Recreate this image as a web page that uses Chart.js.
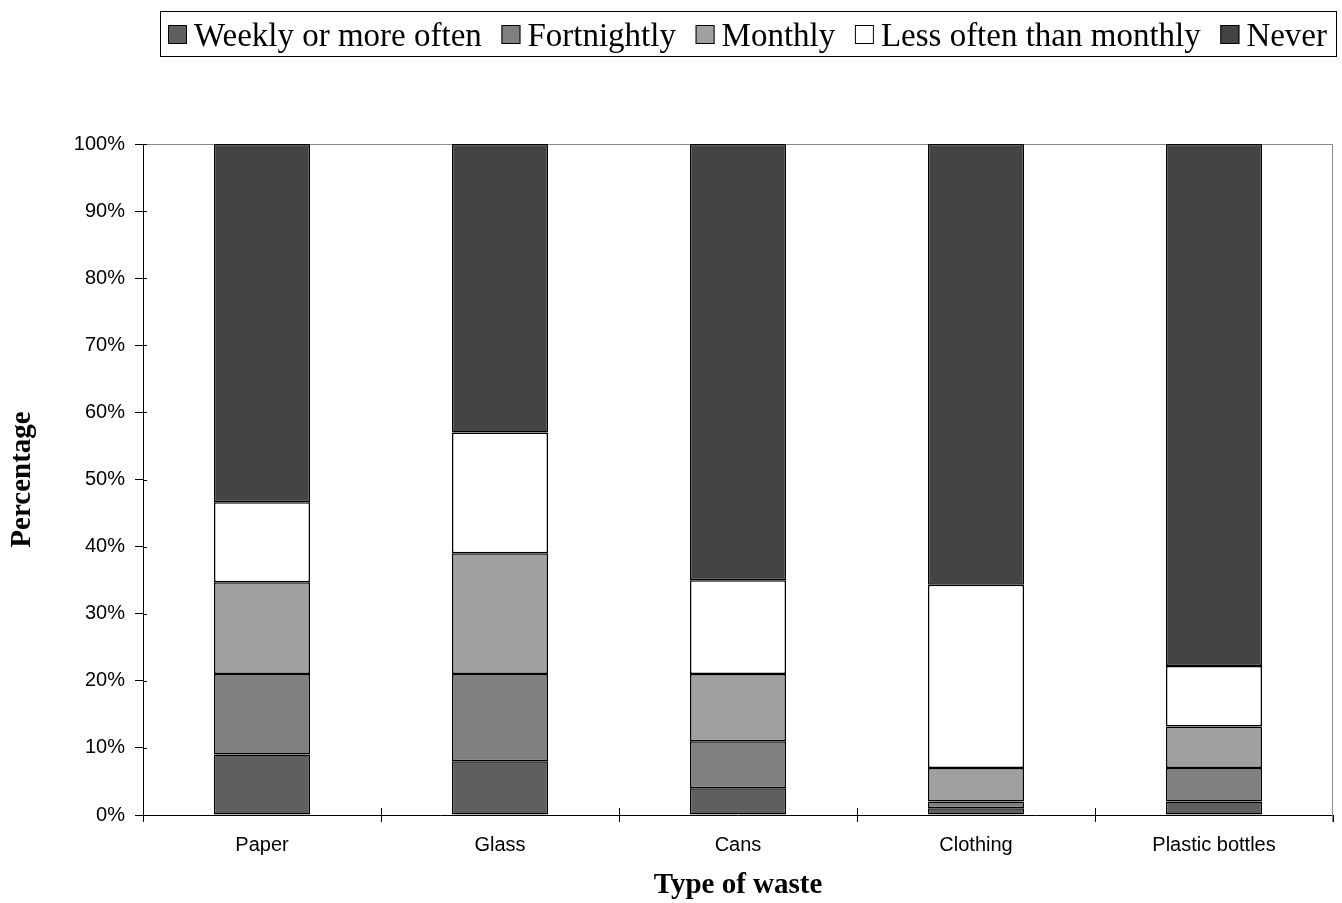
<!DOCTYPE html>
<html>
<head>
<meta charset="utf-8">
<script src="https://cdn.jsdelivr.net/npm/chart.js@4/dist/chart.umd.min.js"></script>
<style>
  html, body { margin: 0; padding: 0; background: #fff; }
  #wrap { width: 1342px; height: 903px; }
</style>
</head>
<body>
<div id="wrap"><canvas id="c" width="1342" height="903"></canvas></div>
<script>
// Recycling frequency by type of waste (percent of respondents)
const categories = ['Paper', 'Glass', 'Cans', 'Clothing', 'Plastic bottles'];
const weekly      = [9, 8, 4, 1, 2];
const fortnightly = [12, 13, 7, 1, 5];
const monthly     = [13.7, 18, 10, 5, 6.2];
const lessOften   = [11.9, 18, 14, 27.3, 9];
const never       = [53.4, 43, 65, 65.7, 77.8];
const yTicks = [0, 10, 20, 30, 40, 50, 60, 70, 80, 90, 100];

const seriesNames  = ['Weekly or more often', 'Fortnightly', 'Monthly', 'Less often than monthly', 'Never'];
const seriesData   = [weekly, fortnightly, monthly, lessOften, never];
const seriesColors = ['#5f5f5f', '#808080', '#a0a0a0', '#ffffff', '#444444'];

const SERIF = '"Liberation Serif", "Times New Roman", serif';
const SANS  = '"Liberation Sans", Arial, sans-serif';

// Boxed legend across the top, drawn on the canvas
const boxedLegend = {
  id: 'boxedLegend',
  afterDraw(chart) {
    const ctx = chart.ctx;
    const frame = { left: 160.5, top: 11.5, right: 1336.5, bottom: 56.5 };
    ctx.save();
    ctx.strokeStyle = '#000';
    ctx.lineWidth = 1;
    ctx.strokeRect(frame.left, frame.top, frame.right - frame.left, frame.bottom - frame.top);

    ctx.font = '33px ' + SERIF;
    ctx.textBaseline = 'alphabetic';
    ctx.fillStyle = '#000';
    const box = 19, gapA = 7;
    const start = 168, end = 1327;
    const items = chart.data.datasets.map(d => ({ text: d.label, color: d.backgroundColor, w: ctx.measureText(d.label).width }));
    const textTotal = items.reduce((s, it) => s + it.w, 0);
    const gapB = (end - start - textTotal - items.length * (box + gapA)) / (items.length - 1);
    let x = start;
    const boxTop = 25, baseline = 46;
    items.forEach(it => {
      ctx.fillStyle = it.color;
      ctx.fillRect(x, boxTop, box, box);
      ctx.strokeStyle = '#000';
      ctx.strokeRect(x + 0.5, boxTop + 0.5, box - 1, box - 1);
      ctx.fillStyle = '#000';
      ctx.fillText(it.text, x + box + gapA, baseline);
      x += box + gapA + it.w + gapB;
    });
    ctx.restore();
  }
};

// Grey frame on the top and right of the plot, plus the inner half of the crossing tick marks
const plotFrame = {
  id: 'plotFrame',
  beforeDatasetsDraw(chart) {
    const { ctx, chartArea: a } = chart;
    ctx.save();
    ctx.strokeStyle = '#888';
    ctx.lineWidth = 1;
    ctx.beginPath();
    ctx.moveTo(a.left, a.top + 0.5);
    ctx.lineTo(a.right - 0.5, a.top + 0.5);
    ctx.lineTo(a.right - 0.5, a.bottom + 7);
    ctx.stroke();
    ctx.restore();
  },
  afterDraw(chart) {
    const { ctx, chartArea: a, scales } = chart;
    ctx.save();
    ctx.strokeStyle = '#000';
    ctx.lineWidth = 1;
    ctx.beginPath();
    yTicks.forEach(v => {
      const y = Math.round(scales.y.getPixelForValue(v)) + 0.5;
      ctx.moveTo(a.left, y);
      ctx.lineTo(a.left + 4, y);
    });
    for (let i = 0; i < categories.length; i++) {
      const x = Math.round(scales.x.getPixelForValue(i - 0.5)) + 0.5;
      ctx.moveTo(x, a.bottom);
      ctx.lineTo(x, a.bottom - 7);
    }
    ctx.stroke();
    ctx.restore();
  }
};

new Chart(document.getElementById('c'), {
  type: 'bar',
  data: {
    labels: categories,
    datasets: seriesNames.map((name, i) => ({
      label: name,
      data: seriesData[i],
      backgroundColor: seriesColors[i],
      borderColor: '#000',
      borderWidth: 1.5,
      borderSkipped: false,
      inflateAmount: 0,
      barPercentage: 0.4034,
      categoryPercentage: 1.0
    }))
  },
  options: {
    responsive: false,
    animation: false,
    devicePixelRatio: 1,
    layout: { padding: { top: 144, right: 9, left: 0, bottom: 0 } },
    plugins: {
      legend: { display: false },
      tooltip: { enabled: false }
    },
    scales: {
      x: {
        stacked: true,
        afterFit(s) { s.height = 88; },
        grid: { display: true, drawOnChartArea: false, drawTicks: true, tickLength: 7, color: '#000', offset: true },
        border: { display: true, color: '#000', width: 1 },
        ticks: { color: '#000', font: { family: SANS, size: 20 }, padding: 11, maxRotation: 0 },
        title: { display: true, text: 'Type of waste', color: '#000', font: { family: SERIF, size: 29, weight: 'bold' }, padding: { top: 0, bottom: 0 } }
      },
      y: {
        stacked: true,
        min: 0, max: 100,
        afterFit(s) { s.width = 143; },
        afterBuildTicks(s) { s.ticks = yTicks.map(v => ({ value: v })); },
        grid: { display: true, drawOnChartArea: false, drawTicks: true, tickLength: 8, color: '#000' },
        border: { display: true, color: '#000', width: 1 },
        ticks: { color: '#000', font: { family: SANS, size: 20 }, padding: 10, callback: v => v + '%' },
        title: { display: true, text: 'Percentage', color: '#000', font: { family: SERIF, size: 29, weight: 'bold' }, padding: { top: 5, bottom: 0 } }
      }
    }
  },
  plugins: [plotFrame, boxedLegend]
});
</script>
</body>
</html>
